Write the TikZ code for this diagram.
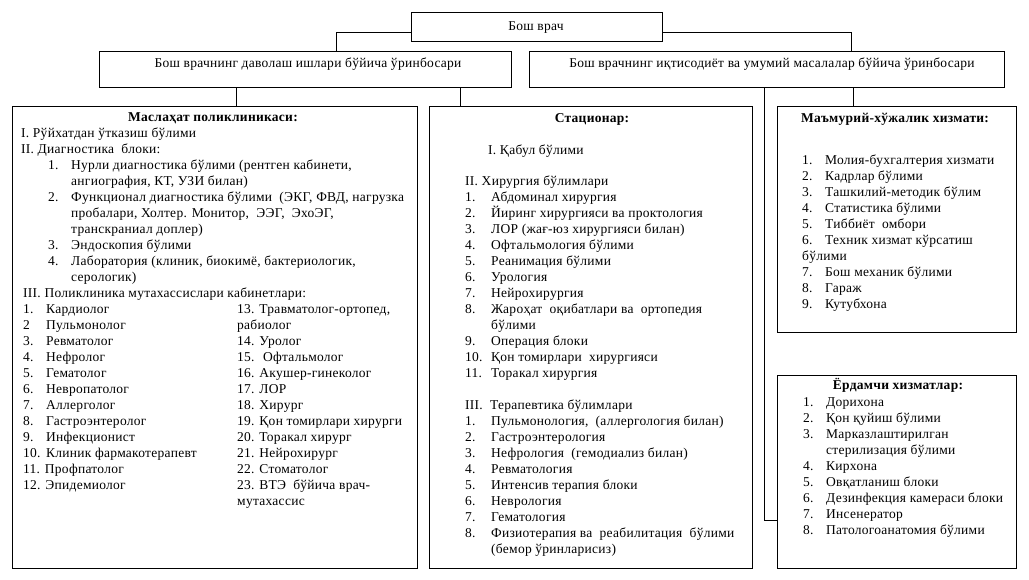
\documentclass[tikz,border=0pt]{standalone}
\usepackage{fontspec}
\setmainfont[LetterSpace=2]{Liberation Serif}
\newlength{\numw}
\setlength{\numw}{23pt}
\newcommand{\itm}[2]{\makebox[\numw][l]{#1}#2}
\tikzset{
    box/.style={draw, line width=0.8pt, inner sep=0pt},
    txt/.style={anchor=mid west, inner sep=0pt, yshift=-2.5pt, font=\fontsize{13.5}{16}\selectfont},
    head/.style={anchor=mid, inner sep=0pt, yshift=-2.5pt, font=\fontsize{13.5}{16}\selectfont},
    htitle/.style={anchor=mid, inner sep=0pt, yshift=-2.5pt, font=\fontsize{13.5}{16}\selectfont\bfseries}
}
\begin{document}
\begin{tikzpicture}[x=1pt, y=-1pt]
        \useasboundingbox (0,0) rectangle (1029,580);
        \node[box, minimum width=251, minimum height=29] (boss) at (536.5,26.5) {};
        \node[box, minimum width=412, minimum height=36] (dep1) at (305,69) {};
        \node[box, minimum width=475, minimum height=36] (dep2) at (766.5,69) {};
        \node[box, minimum width=405, minimum height=462] (poly) at (214.5,337) {};
        \node[box, minimum width=323, minimum height=462] (stat) at (590.5,337) {};
        \node[box, minimum width=239, minimum height=226] (admin) at (896.5,219) {};
        \node[box, minimum width=239, minimum height=193] (aux) at (896.5,471.5) {};
        \node[head] (boss-t) at (536,26) {Бош врач};
        \node[head] (dep1-t) at (308,63) {Бош врачнинг даволаш ишлари бўйича ўринбосари};
        \node[head] (dep2-t) at (772,63) {Бош врачнинг иқтисодиёт ва умумий масалалар бўйича ўринбосари};
        \draw[line width=0.8pt] ([yshift=-5.5pt]boss.west) -| ([xshift=31pt]dep1.north);
        \draw[line width=0.8pt] ([yshift=-5.5pt]boss.east) -| ([xshift=84.5pt]dep2.north);
        \draw[line width=0.8pt] ([xshift=-69pt]dep1.south) -- ([xshift=-69pt]dep1.south |- poly.north);
        \draw[line width=0.8pt] ([xshift=155pt]dep1.south) -- ([xshift=155pt]dep1.south |- stat.north);
        \draw[line width=0.8pt] ([xshift=86.5pt]dep2.south) -- ([xshift=86.5pt]dep2.south |- admin.north);
        \draw[line width=0.8pt] ([xshift=-2.5pt]dep2.south) |- ([yshift=-48.5pt]aux.west);
        % Маслаҳат поликлиникаси
        \node[htitle] (poly-t) at (213,117) {Маслаҳат поликлиникаси:};
        \node[txt] (poly-1) at (21,133) {I. Рўйхатдан ўтказиш бўлими};
        \node[txt] (poly-2) at (21,149) {II. Диагностика~ блоки:};
        \foreach \t [count=\i from 0] in {
            \itm{1.}{Нурли диагностика бўлими (рентген кабинети,},
            \itm{}{ангиография, КТ, УЗИ билан)},
            \itm{2.}{Функционал диагностика бўлими~ (ЭКГ, ФВД, нагрузка},
            \itm{}{пробалари, Холтер. Монитор,~ ЭЭГ,~ ЭхоЭГ,},
            \itm{}{транскраниал доплер)},
            \itm{3.}{Эндоскопия бўлими},
            \itm{4.}{Лаборатория (клиник, биокимё, бактериологик,},
            \itm{}{серологик)}} {
            \node[txt] (diag\i) at (48,165+16*\i) {\t};
        }
        \node[txt] (poly-3) at (23,293) {III. Поликлиника мутахассислари кабинетлари:};
        \foreach \t [count=\i from 0] in {
            \itm{1.}{Кардиолог}, \itm{2}{Пульмонолог}, \itm{3.}{Ревматолог},
            \itm{4.}{Нефролог}, \itm{5.}{Гематолог}, \itm{6.}{Невропатолог},
            \itm{7.}{Аллерголог}, \itm{8.}{Гастроэнтеролог}, \itm{9.}{Инфекционист},
            \itm{10.}{Клиник фармакотерапевт}, 11. Профпатолог, 12. Эпидемиолог} {
            \node[txt] (spa\i) at (23,309+16*\i) {\t};
        }
        \foreach \t [count=\i from 0] in {
            13. Травматолог-ортопед{,}, рабиолог, 14. Уролог, 15.~ Офтальмолог,
            16. Акушер-гинеколог, 17. ЛОР, 18. Хирург, 19. Қон томирлари хирурги,
            20. Торакал хирург, 21. Нейрохирург, 22. Стоматолог,
            23. ВТЭ~ бўйича врач-, мутахассис} {
            \node[txt] (spb\i) at (237,309+16*\i) {\t};
        }
        % Стационар
        \node[htitle] (stat-t) at (592,118) {Стационар:};
        \node[txt] (stat-1) at (488,150) {I. Қабул бўлими};
        \node[txt] (stat-2) at (465,181) {II. Хирургия бўлимлари};
        \foreach \t [count=\i from 0] in {
            \itm{1.}{Абдоминал хирургия},
            \itm{2.}{Йиринг хирургияси ва проктология},
            \itm{3.}{ЛОР (жағ-юз хирургияси билан)},
            \itm{4.}{Офтальмология бўлими},
            \itm{5.}{Реанимация бўлими},
            \itm{6.}{Урология},
            \itm{7.}{Нейрохирургия},
            \itm{8.}{Жароҳат~ оқибатлари ва~ ортопедия},
            \itm{}{бўлими},
            \itm{9.}{Операция блоки},
            \itm{10.}{Қон томирлари~ хирургияси},
            \itm{11.}{Торакал хирургия}} {
            \node[txt] (sur\i) at (465,197+16*\i) {\setlength{\numw}{26pt}\t};
        }
        \node[txt] (stat-3) at (465,405) {III.~ Терапевтика бўлимлари};
        \foreach \t [count=\i from 0] in {
            \itm{1.}{Пульмонология,~ (аллергология билан)},
            \itm{2.}{Гастроэнтерология},
            \itm{3.}{Нефрология~ (гемодиализ билан)},
            \itm{4.}{Ревматология},
            \itm{5.}{Интенсив терапия блоки},
            \itm{6.}{Неврология},
            \itm{7.}{Гематология},
            \itm{8.}{Физиотерапия ва~ реабилитация~ бўлими},
            \itm{}{(бемор ўринларисиз)}} {
            \node[txt] (ther\i) at (465,421+16*\i) {\setlength{\numw}{26pt}\t};
        }
        % Маъмурий-хўжалик хизмати
        \node[htitle] (admin-t) at (895,118) {Маъмурий-хўжалик хизмати:};
        \foreach \t [count=\i from 0] in {
            \itm{1.}{Молия-бухгалтерия хизмати},
            \itm{2.}{Кадрлар бўлими},
            \itm{3.}{Ташкилий-методик бўлим},
            \itm{4.}{Статистика бўлими},
            \itm{5.}{Тиббиёт~ омбори},
            \itm{6.}{Техник хизмат кўрсатиш},
            бўлими,
            \itm{7.}{Бош механик бўлими},
            \itm{8.}{Гараж},
            \itm{9.}{Кутубхона}} {
            \node[txt] (adm\i) at (802,160+16*\i) {\t};
        }
        % Ёрдамчи хизматлар
        \node[htitle] (aux-t) at (898,385) {Ёрдамчи хизматлар:};
        \foreach \t [count=\i from 0] in {
            \itm{1.}{Дорихона},
            \itm{2.}{Қон қуйиш бўлими},
            \itm{3.}{Марказлаштирилган},
            \itm{}{стерилизация бўлими},
            \itm{4.}{Кирхона},
            \itm{5.}{Овқатланиш блоки},
            \itm{6.}{Дезинфекция камераси блоки},
            \itm{7.}{Инсенератор},
            \itm{8.}{Патологоанатомия бўлими}} {
            \node[txt] (hlp\i) at (803,402+16*\i) {\t};
        }
\end{tikzpicture}
\end{document}
